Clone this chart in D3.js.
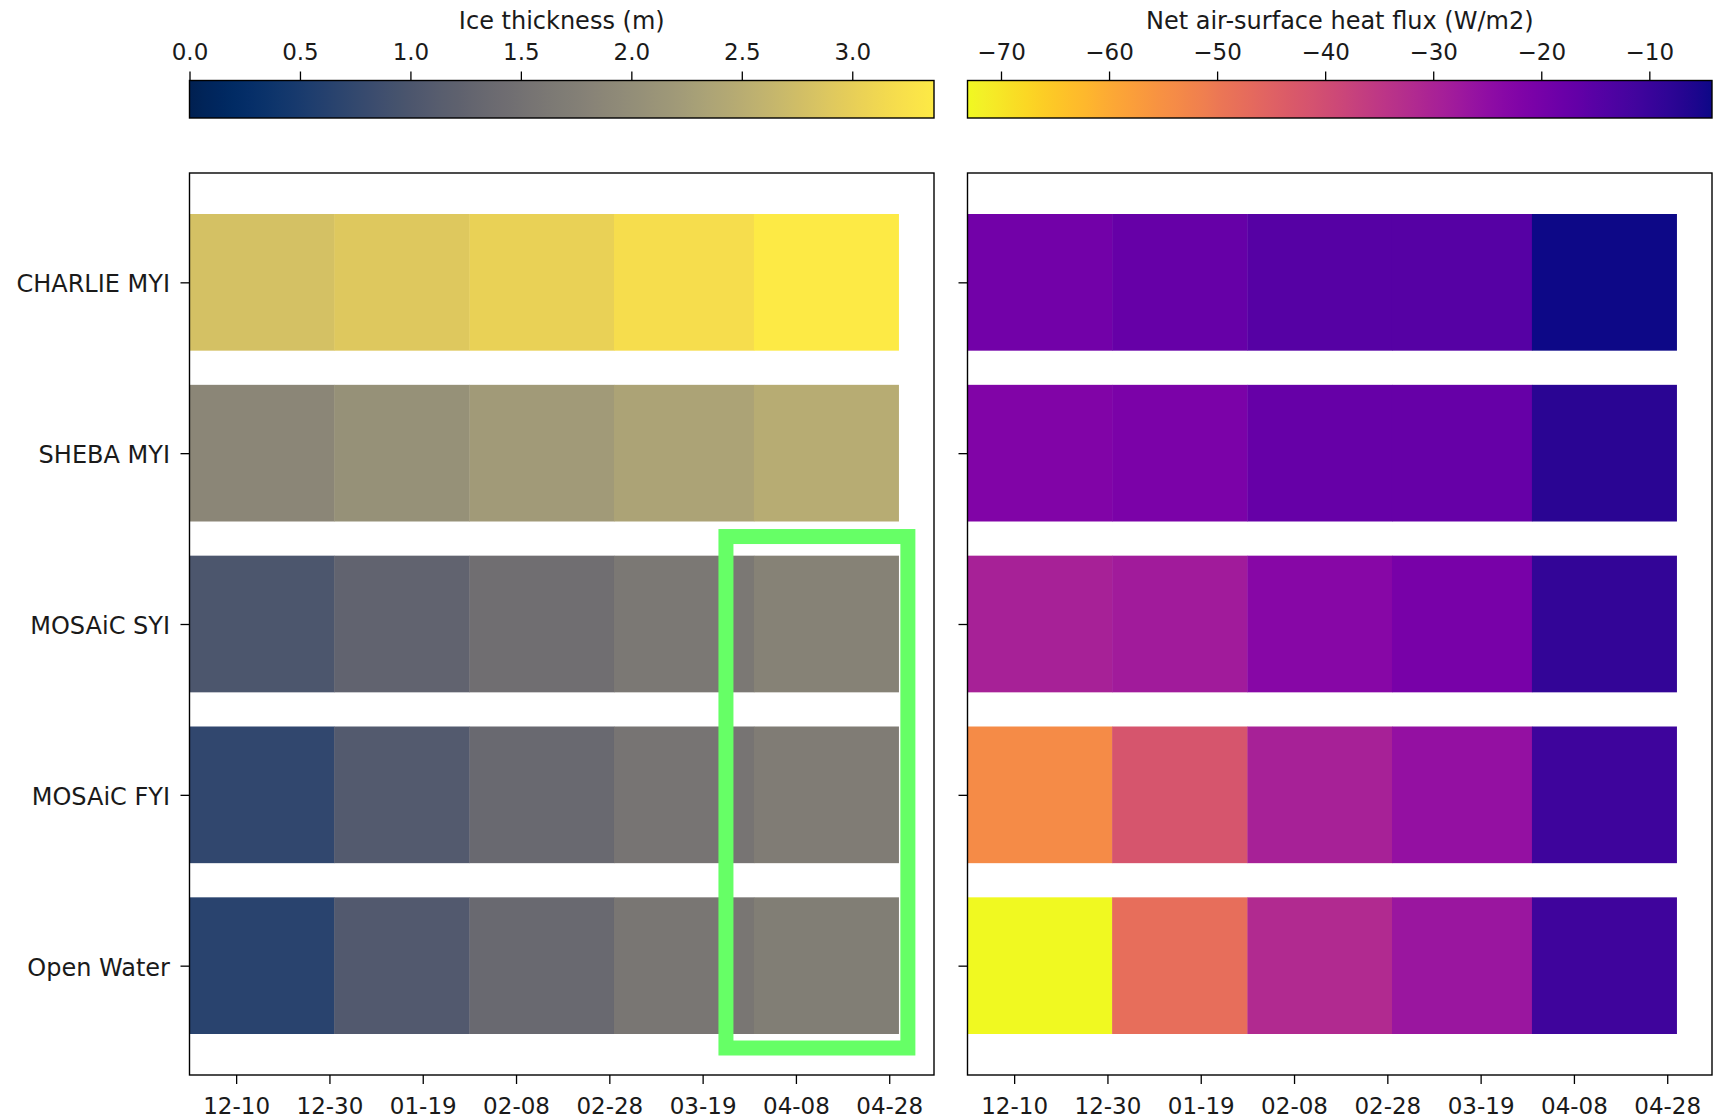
<!DOCTYPE html>
<html><head><meta charset="utf-8">
<script src="https://cdn.jsdelivr.net/npm/d3@7"></script>
<style>body{margin:0;background:#fff} text{font-family:"DejaVu Sans",sans-serif}</style>
</head><body><svg id="c" width="1724" height="1118"></svg>
<script>
// ---- data ----
const categories = ["CHARLIE MYI","SHEBA MYI","MOSAiC SYI","MOSAiC FYI","Open Water"];
const periodStarts = ["2019-11-30","2019-12-31","2020-01-29","2020-02-29","2020-03-30"];
const periodEnd = "2020-04-30";
const iceThickness = [
  [2.80,2.90,3.03,3.20,3.37],
  [1.87,2.05,2.20,2.35,2.48],
  [1.00,1.25,1.45,1.62,1.79],
  [0.73,1.08,1.35,1.55,1.69],
  [0.66,1.07,1.35,1.58,1.72]
];
const heatFlux = [
  [-19.4,-17.3,-14.5,-14.5,-4.2],
  [-22.1,-21.1,-17.3,-17.3,-7.6],
  [-29.7,-28.3,-23.1,-20.4,-9.0],
  [-53.8,-42.1,-29.7,-25.6,-10.4],
  [-73.1,-47.6,-31.8,-26.9,-10.7]
];
const dateTicks = ["2019-12-10","2019-12-30","2020-01-19","2020-02-08","2020-02-28","2020-03-19","2020-04-08","2020-04-28"];
const iceTicks = [0,0.5,1.0,1.5,2.0,2.5,3.0];
const fluxTicks = [-70,-60,-50,-40,-30,-20,-10];
const iceRange = [0,3.37];
const fluxRange = [-73.1,-4.2];
const iceTitle = "Ice thickness (m)";
const fluxTitle = "Net air-surface heat flux (W/m2)";
const highlight = {start:"2020-03-24", end:"2020-05-02", y0:1.488, y1:4.482};

// ---- layout ----
const W=1724,H=1118;
const panelW=744.5, axTop=173, axBot=1075;
const panels=[{x0:189.5},{x0:967.5}];
const cbTop=80.5, cbBot=118;
const FS=23, FSL=24;
const parse=d3.utcParse("%Y-%m-%d");
const svg=d3.select("#c");
svg.append("rect").attr("width",W).attr("height",H).attr("fill","#fff");

const t0=parse(periodStarts[0]), t1=parse(periodEnd);
const xMax=new Date(+t1+0.05*(t1-t0));
const y=d3.scaleLinear().domain([-0.64,4.64]).range([axTop,axBot]);

const iceColor=d3.scaleSequential(d3.interpolateCividis).domain(iceRange);
const fluxColor=d3.scaleSequential(d3.interpolatePlasma).domain([fluxRange[1],fluxRange[0]]);

const specs=[
  {vals:iceThickness,color:iceColor,ticks:iceTicks,range:iceRange,fmt:d3.format(".1f"),title:iceTitle,labels:true},
  {vals:heatFlux,color:fluxColor,ticks:fluxTicks,range:fluxRange,fmt:d3.format("d"),title:fluxTitle,labels:false}
];

function styleAxis(g,fs){
  g.select(".domain").remove();
  g.selectAll(".tick line").attr("stroke","#000").attr("stroke-width",1.3);
  g.selectAll(".tick text").attr("fill","#1a1a1a").style("font-size",(fs||FS)+"px").style("font-family","DejaVu Sans");
}

specs.forEach((s,pi)=>{
  const x0=panels[pi].x0;
  const x=d3.scaleUtc().domain([t0,xMax]).range([x0,x0+panelW]);
  const g=svg.append("g");
  s.vals.forEach((row,ri)=>{
    row.forEach((v,ci)=>{
      const a=parse(periodStarts[ci]);
      const b=ci<periodStarts.length-1?parse(periodStarts[ci+1]):t1;
      g.append("rect")
        .attr("x",x(a)).attr("width",x(b)-x(a)+0.4)
        .attr("y",y(ri-0.4)).attr("height",y(ri+0.4)-y(ri-0.4))
        .attr("fill",s.color(v));
    });
  });
  const xa=g.append("g").attr("transform",`translate(0,${axBot})`)
    .call(d3.axisBottom(x).tickValues(dateTicks.map(parse)).tickFormat(d3.utcFormat("%m-%d")).tickSize(9).tickPadding(14));
  styleAxis(xa);
  const ya=g.append("g").attr("transform",`translate(${x0},0)`)
    .call(d3.axisLeft(y).tickValues(d3.range(categories.length)).tickFormat(i=>s.labels?categories[i]:"").tickSize(9).tickPadding(10.5));
  styleAxis(ya,FSL);
  ya.selectAll(".tick text").attr("dy","0.4em");
  g.append("rect").attr("x",x0).attr("y",axTop).attr("width",panelW).attr("height",axBot-axTop)
    .attr("fill","none").attr("stroke","#000").attr("stroke-width",1.4);

  const cx=d3.scaleLinear().domain(s.range).range([x0,x0+panelW]);
  const gid="grad"+pi;
  const grad=svg.append("defs").append("linearGradient").attr("id",gid).attr("x1","0%").attr("x2","100%");
  d3.range(0,1.0001,0.02).forEach(t=>{
    grad.append("stop").attr("offset",(t*100)+"%").attr("stop-color",s.color(s.range[0]+t*(s.range[1]-s.range[0])));
  });
  svg.append("rect").attr("x",x0).attr("y",cbTop).attr("width",panelW).attr("height",cbBot-cbTop)
    .attr("fill",`url(#${gid})`).attr("stroke","#000").attr("stroke-width",1.4);
  const ca=svg.append("g").attr("transform",`translate(0,${cbTop})`)
    .call(d3.axisTop(cx).tickValues(s.ticks).tickFormat(s.fmt).tickSize(9).tickPadding(11.5));
  styleAxis(ca);
  svg.append("text").attr("x",x0+panelW/2).attr("y",29).attr("text-anchor","middle")
    .attr("fill","#1a1a1a").style("font-size",FSL+"px").text(s.title);

  if(pi===0){
    svg.append("rect")
      .attr("x",x(parse(highlight.start))).attr("y",y(highlight.y0))
      .attr("width",x(parse(highlight.end))-x(parse(highlight.start)))
      .attr("height",y(highlight.y1)-y(highlight.y0))
      .attr("fill","none").attr("stroke","#66ff66").attr("stroke-width",15);
  }
});
</script></body></html>
